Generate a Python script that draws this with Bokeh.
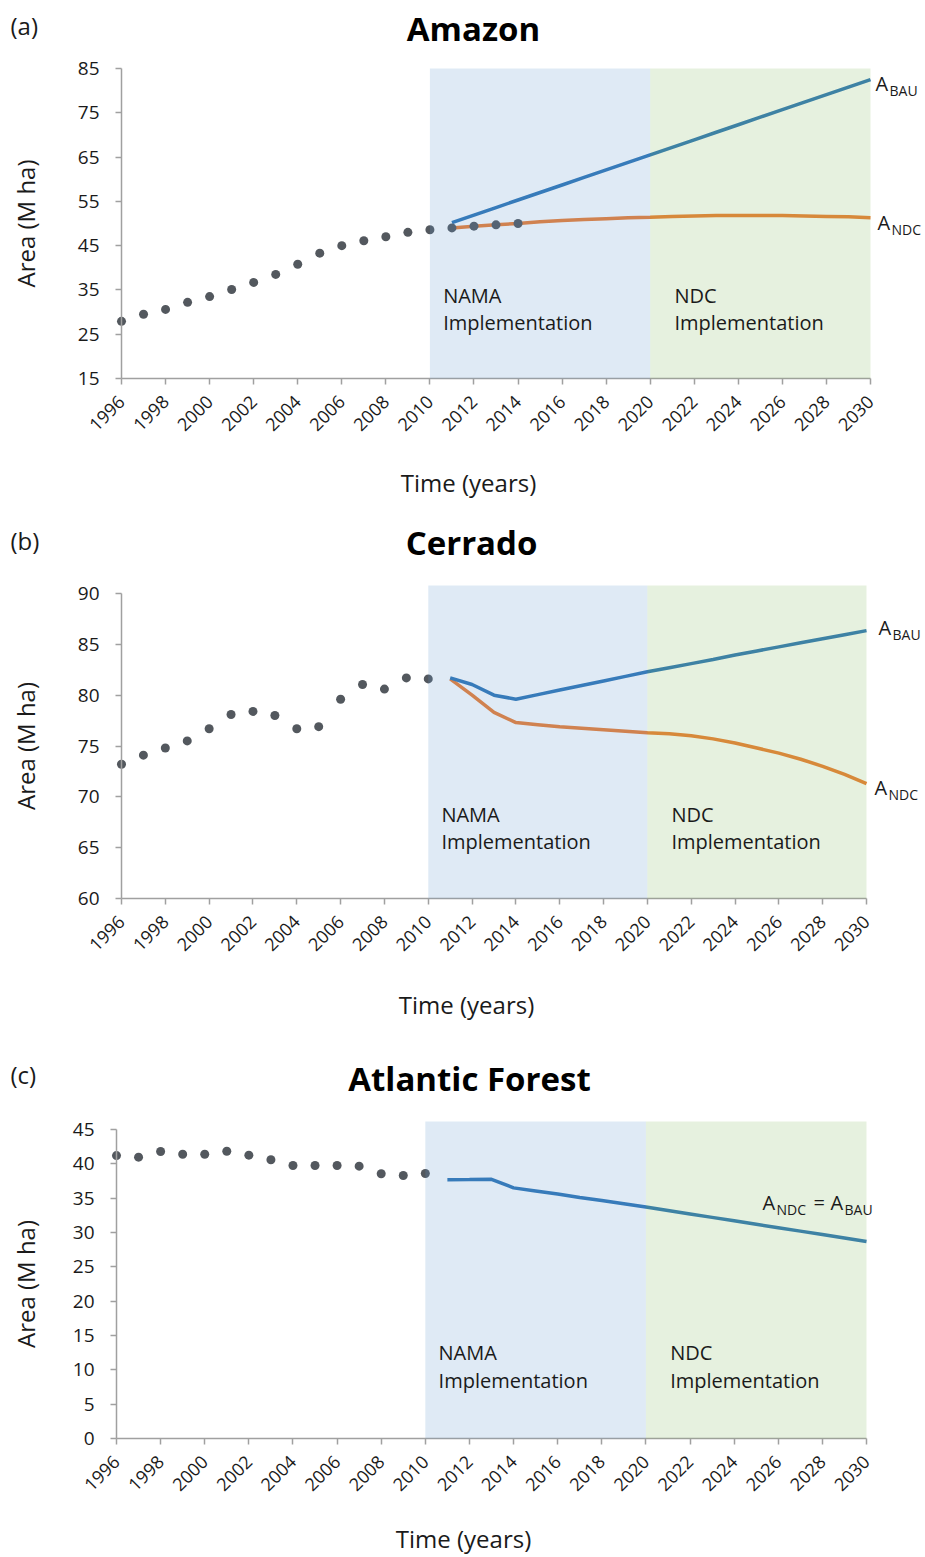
import math
from bokeh.plotting import figure
from bokeh.models import Range1d, BoxAnnotation, Label, FixedTicker
from bokeh.layouts import column
from bokeh.embed import file_html
from bokeh.resources import INLINE

# ---------------- data ----------------
years_ticks = list(range(1996, 2031, 2))
proj_years = list(range(2011, 2031))

amazon_obs_years = list(range(1996, 2015))
amazon_obs = [27.9, 29.5, 30.6, 32.2, 33.5, 35.1, 36.7, 38.5, 40.8, 43.3,
              45.0, 46.1, 47.0, 48.0, 48.6, 49.0, 49.4, 49.7, 50.0]
amazon_bau = [50.2, 51.9, 53.6, 55.3, 57.0, 58.7, 60.4, 62.1, 63.8, 65.5,
              67.2, 68.9, 70.6, 72.3, 74.0, 75.7, 77.4, 79.1, 80.8, 82.5]
amazon_ndc = [49.0, 49.4, 49.7, 50.0, 50.4, 50.7, 50.9, 51.1, 51.3, 51.4,
              51.6, 51.7, 51.8, 51.8, 51.8, 51.8, 51.7, 51.6, 51.5, 51.3]

cerrado_obs_years = list(range(1996, 2011))
cerrado_obs = [73.2, 74.1, 74.8, 75.5, 76.7, 78.1, 78.4, 78.0, 76.7, 76.9,
               79.6, 81.05, 80.6, 81.7, 81.6]
cerrado_bau = [81.7, 81.05, 80.0, 79.6, 80.05, 80.5, 80.95, 81.4, 81.85, 82.3,
               82.7, 83.1, 83.5, 83.95, 84.35, 84.75, 85.15, 85.55, 85.95, 86.35]
cerrado_ndc = [81.6, 80.0, 78.3, 77.3, 77.1, 76.9, 76.75, 76.6, 76.45, 76.3,
               76.2, 76.0, 75.7, 75.3, 74.8, 74.3, 73.7, 73.0, 72.2, 71.3]

atlantic_obs_years = list(range(1996, 2011))
atlantic_obs = [41.2, 40.97, 41.8, 41.4, 41.4, 41.84, 41.26, 40.6, 39.76, 39.76,
                39.76, 39.66, 38.55, 38.3, 38.6]
atlantic_line = [37.7, 37.72, 37.75, 36.5, 36.05, 35.6, 35.1, 34.65, 34.2, 33.7,
                 33.2, 32.7, 32.2, 31.7, 31.2, 30.7, 30.2, 29.7, 29.2, 28.7]

# ---------------- style ----------------
FONT = "Open Sans"
BLUE = "#2e75b6"
ORANGE = "#ed7d31"
DOT = "#53585e"
AXIS = "#a0a0a0"
TXT = "#1a1a1a"
W = 925


def make_header(h, letter, title, letter_y, title_x, title_y):
    p = figure(frame_width=W, frame_height=h, x_range=Range1d(0, W),
               y_range=Range1d(0, h), x_axis_type=None, y_axis_type=None,
               min_border=0, output_backend="svg", toolbar_location=None)
    p.outline_line_color = None
    p.add_layout(Label(x=10, y=letter_y, text=letter, text_font=FONT,
                       text_font_size="24px", text_color=TXT,
                       text_baseline="middle", text_align="left"))
    p.add_layout(Label(x=title_x, y=title_y, text=title, text_font=FONT,
                       text_font_size="33px", text_font_style="bold",
                       text_color="#000000", text_baseline="middle",
                       text_align="center"))
    return p


def make_panel(obs_x, obs_y, bau, ndc, y0, y1, ystep, axis_h, top_px,
               bottom_px, band_ext, x1996, x2030, xlab_x, xlab_dy):
    ppy = (x2030 - x1996) / 34.0
    x_start = 1996 - x1996 / ppy
    x_end = 1996 + (W - x1996) / ppy
    ppu = axis_h / float(y1 - y0)
    y_start = y0 - bottom_px / ppu
    y_end = y1 + top_px / ppu
    band_top = y1 + band_ext / ppu
    p = figure(frame_width=W, frame_height=axis_h + top_px + bottom_px,
               min_border=0,
               x_range=Range1d(x_start, x_end), y_range=Range1d(y_start, y_end),
               output_backend="svg", toolbar_location=None,
               background_fill_color="white", border_fill_color="white")
    p.outline_line_color = None
    p.grid.visible = False

    p.xaxis.ticker = FixedTicker(ticks=years_ticks)
    p.yaxis.ticker = FixedTicker(ticks=list(range(y0, y1 + 1, ystep)))
    p.xaxis.bounds = (1996, 2030)
    p.yaxis.bounds = (y0, y1)
    p.yaxis.fixed_location = 1996
    p.xaxis.fixed_location = y0
    for ax in (p.xaxis, p.yaxis):
        ax.axis_line_color = AXIS
        ax.axis_line_width = 1.5
        ax.major_tick_line_color = AXIS
        ax.major_tick_line_width = 1.5
        ax.major_tick_in = 0
        ax.major_tick_out = 6
        ax.minor_tick_line_color = None
        ax.major_label_text_font = FONT
        ax.major_label_text_color = TXT
    p.xaxis.major_label_text_font_size = "18px"
    p.yaxis.major_label_text_font_size = "19px"
    p.xaxis.major_label_orientation = math.pi / 4
    p.xaxis.major_label_standoff = 14
    p.yaxis.major_label_standoff = 16

    # axis titles
    p.add_layout(Label(x=1996 - (x1996 - 25) / ppy, y=(y0 + y1) / 2.0,
                       text="Area (M ha)", angle=math.pi / 2,
                       text_font=FONT, text_font_size="24px", text_color=TXT,
                       text_align="center", text_baseline="middle"))
    p.add_layout(Label(x=1996 + (xlab_x - x1996) / ppy,
                       y=y0 - xlab_dy / ppu,
                       text="Time (years)",
                       text_font=FONT, text_font_size="24px", text_color=TXT,
                       text_align="center", text_baseline="middle"))

    # projected lines
    if ndc is not None:
        p.line(proj_years, ndc, line_color=ORANGE, line_width=3.5)
    p.line(proj_years, bau, line_color=BLUE, line_width=3.5)
    # observations
    p.scatter(obs_x, obs_y, size=9, color=DOT, line_color=None)

    # period bands (semi-transparent, over the data like the original)
    p.add_layout(BoxAnnotation(left=2010, right=2020, top=band_top, bottom=y0,
                               fill_color="#5f96cd", fill_alpha=0.2,
                               line_color=None))
    p.add_layout(BoxAnnotation(left=2020, right=2030, top=band_top, bottom=y0,
                               fill_color="#82b95f", fill_alpha=0.2,
                               line_color=None))
    return p


def add_text(p, x, y, text, size, dx=0, dy=0):
    p.add_layout(Label(x=x, y=y, text=text, x_offset=dx, y_offset=dy,
                       text_font=FONT, text_font_size=size, text_color=TXT,
                       text_align="left", text_baseline="middle"))


def add_sub(p, x, y, main, sub, dx, dy):
    add_text(p, x, y, main, "20px", dx=dx, dy=dy)
    add_text(p, x, y, sub, "14px", dx=dx + 14, dy=dy - 7)


def add_periods(p, y_top, y_bot):
    add_text(p, 2010.6, y_top, "NAMA", "20px")
    add_text(p, 2010.6, y_bot, "Implementation", "20px")
    add_text(p, 2021.1, y_top, "NDC", "20px")
    add_text(p, 2021.1, y_bot, "Implementation", "20px")


# ---- panel a ----
ha = make_header(56, "(a)", "Amazon", 56 - 25, 473, 56 - 28)
pa = make_panel(amazon_obs_years, amazon_obs, amazon_bau, amazon_ndc,
                15, 85, 10, 310, 12, 127, 0, 121, 870, 468, 104)
add_periods(pa, 33.8, 27.7)
add_sub(pa, 2030, amazon_bau[-1], "A", "BAU", 5, -4)
add_sub(pa, 2030, amazon_ndc[-1], "A", "NDC", 7, -5)

# ---- panel b ----
hb = make_header(76, "(b)", "Cerrado", 76 - 35, 471, 76 - 37)
pb = make_panel(cerrado_obs_years, cerrado_obs, cerrado_bau, cerrado_ndc,
                60, 90, 5, 305, 12, 127, 8, 121, 866, 466, 106)
add_periods(pb, 68.3, 65.6)
add_sub(pb, 2030, cerrado_bau[-1], "A", "BAU", 12, 3)
add_sub(pb, 2030, cerrado_ndc[-1], "A", "NDC", 8, -4)

# ---- panel c ----
hc = make_header(92, "(c)", "Atlantic Forest", 92 - 49, 469, 92 - 53)
pc = make_panel(atlantic_obs_years, atlantic_obs, atlantic_line, None,
                0, 45, 5, 309, 12, 116, 8, 116, 866, 463, 100)
add_periods(pc, 12.5, 8.45)
add_sub(pc, 2030, atlantic_line[-1], "A", "NDC", -104, 39)
add_text(pc, 2030, atlantic_line[-1], "=", "20px", dx=-53, dy=39)
add_sub(pc, 2030, atlantic_line[-1], "A", "BAU", -36, 39)

layout = column(ha, pa, hb, pb, hc, pc, spacing=0)
open("out.html", "w").write(file_html(layout, INLINE))
